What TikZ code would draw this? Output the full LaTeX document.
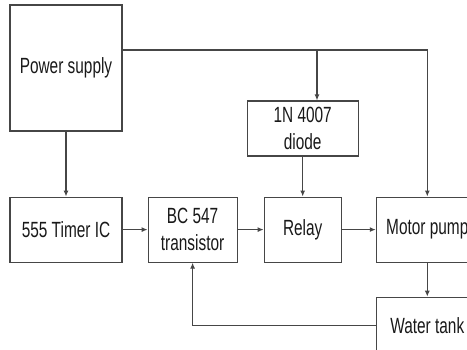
\documentclass[tikz,border=0pt]{standalone}
\usepackage{fontspec}
\setmainfont{Liberation Sans}[FakeStretch=0.7]
\usetikzlibrary{arrows.meta, positioning}
\definecolor{lineg}{RGB}{70,70,70}

\begin{document}
\begin{tikzpicture}[
  x=1pt, y=-1pt,
  blk/.style={rectangle, draw=lineg, line width=1.1pt, align=center, inner sep=0pt,
              font=\fontsize{22}{27}\selectfont, text=black!90},
  arr/.style={-{Latex[length=6pt, width=5pt]}, draw=lineg, line width=1.1pt}
]
\useasboundingbox (0,0) rectangle (467,349);
\clip (0,0) rectangle (467,349);

\node[blk, minimum width=112pt, minimum height=126pt] (ps) at (66,68) {Power supply};
\node[blk, minimum width=112pt, minimum height=65pt, below=65pt of ps] (timer) {555 Timer IC};
\node[blk, minimum width=89pt, minimum height=65pt, right=25pt of timer] (bc) {BC 547\\transistor};
\node[blk, minimum width=77pt, minimum height=65pt, right=26pt of bc] (relay) {Relay};
\node[blk, minimum width=102pt, minimum height=65pt, right=34pt of relay] (motor) {Motor pump};
\node[blk, minimum width=111pt, minimum height=55pt, above=40pt of relay] (diode) {1N 4007\\diode};
\node[blk, minimum width=102pt, minimum height=56pt, below=34pt of motor] (tank) {Water tank};

% supply rail
\coordinate (tap) at (317,50);
\draw[arr] ([yshift=18pt]ps.east) -| (motor.north);
\draw[arr] (tap) -- (tap |- diode.north);

\draw[arr] (ps) -- (timer);
\draw[arr] (diode) -- (relay);
\draw[arr] (timer) -- (bc);
\draw[arr] (bc) -- (relay);
\draw[arr] (relay) -- (motor);
\draw[arr] (motor) -- (tank);
\draw[arr] (tank.west) -| (bc.south);

\end{tikzpicture}
\end{document}
